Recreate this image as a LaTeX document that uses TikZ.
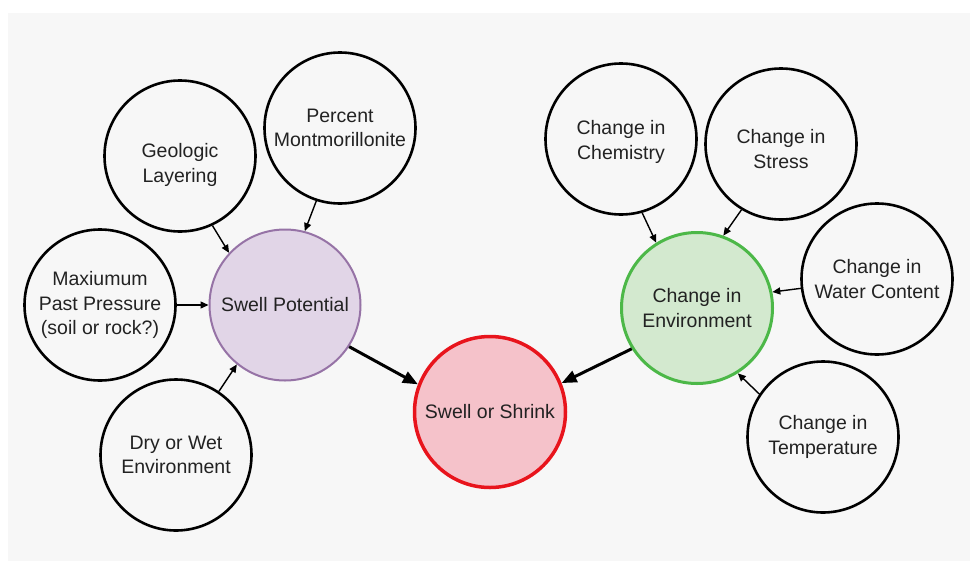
\documentclass[tikz,border=0pt]{standalone}
\usepackage{fontspec}
\setmainfont{Liberation Sans}
\usetikzlibrary{arrows.meta}
\definecolor{panel}{HTML}{F7F7F7}
\definecolor{txt}{HTML}{222222}
\definecolor{pfill}{HTML}{E1D5E7}
\definecolor{pdraw}{HTML}{9673A6}
\definecolor{rfill}{HTML}{F5C2CA}
\definecolor{rdraw}{HTML}{E8141C}
\definecolor{gfill}{HTML}{D3E9CF}
\definecolor{gdraw}{HTML}{4CB848}
\newcommand{\lowtext}[2]{\raisebox{#1}[\height][\depth]{\begin{tabular}{@{}c@{}}#2\end{tabular}}}
\begin{document}
\begin{tikzpicture}[x=1pt,y=-1pt,
  bub/.style={circle, draw=black, line width=2.6pt, minimum size=151pt, inner sep=0pt,
    align=center, text=txt, font=\fontsize{19.5}{24.5}\selectfont},
  purp/.style={bub, fill=pfill, draw=pdraw, line width=2pt},
  redc/.style={bub, fill=rfill, draw=rdraw, line width=3.5pt},
  grnc/.style={bub, fill=gfill, draw=gdraw, line width=3pt},
  thinar/.style={-{Triangle[length=8pt,width=7pt]}, line width=1.4pt, draw=black},
  thickar/.style={-{Triangle[length=15pt,width=12pt]}, line width=3pt, draw=black}]
\useasboundingbox (0,0) rectangle (970,563);
\fill[white] (0,0) rectangle (970,563);
\fill[panel] (8,13) rectangle (970,561);

\node[bub] (geo) at (180,156) {\lowtext{-9pt}{Geologic\\Layering}};
\node[bub] (pct) at (340,128) {Percent\\Montmorillonite};
\node[bub] (max) at (100,305) {Maxiumum\\Past Pressure\\(soil or rock?)};
\node[bub] (dry) at (176,455) {Dry or Wet\\Environment};
\node[purp] (sp) at (285,305) {Swell Potential};
\node[redc] (ss) at (490,412) {Swell or Shrink};
\node[bub] (chem) at (621,139) {\lowtext{-3pt}{Change in\\Chemistry}};
\node[bub] (stress) at (781,144) {\lowtext{-7pt}{Change in\\Stress}};
\node[grnc] (env) at (697,308) {Change in\\Environment};
\node[bub] (water) at (877,279) {Change in\\Water Content};
\node[bub] (temp) at (823,437) {Change in\\Temperature};

\draw[thinar] (geo.-65) -- (sp.137);
\draw[thinar] (pct.-108) -- (sp.75);
\draw[thinar] (max.0) -- (sp.180);
\draw[thinar] (dry.56) -- (sp.231);
\draw[thickar] (sp.-33) -- (ss.159);
\draw[thinar] (chem.-74) -- (env.122);
\draw[thinar] (stress.-121) -- (env.70);
\draw[thinar] (water.187) -- (env.12);
\draw[thinar] (temp.146) -- (env.-58);
\draw[thickar] (env.212) -- (ss.22);
\end{tikzpicture}
\end{document}
